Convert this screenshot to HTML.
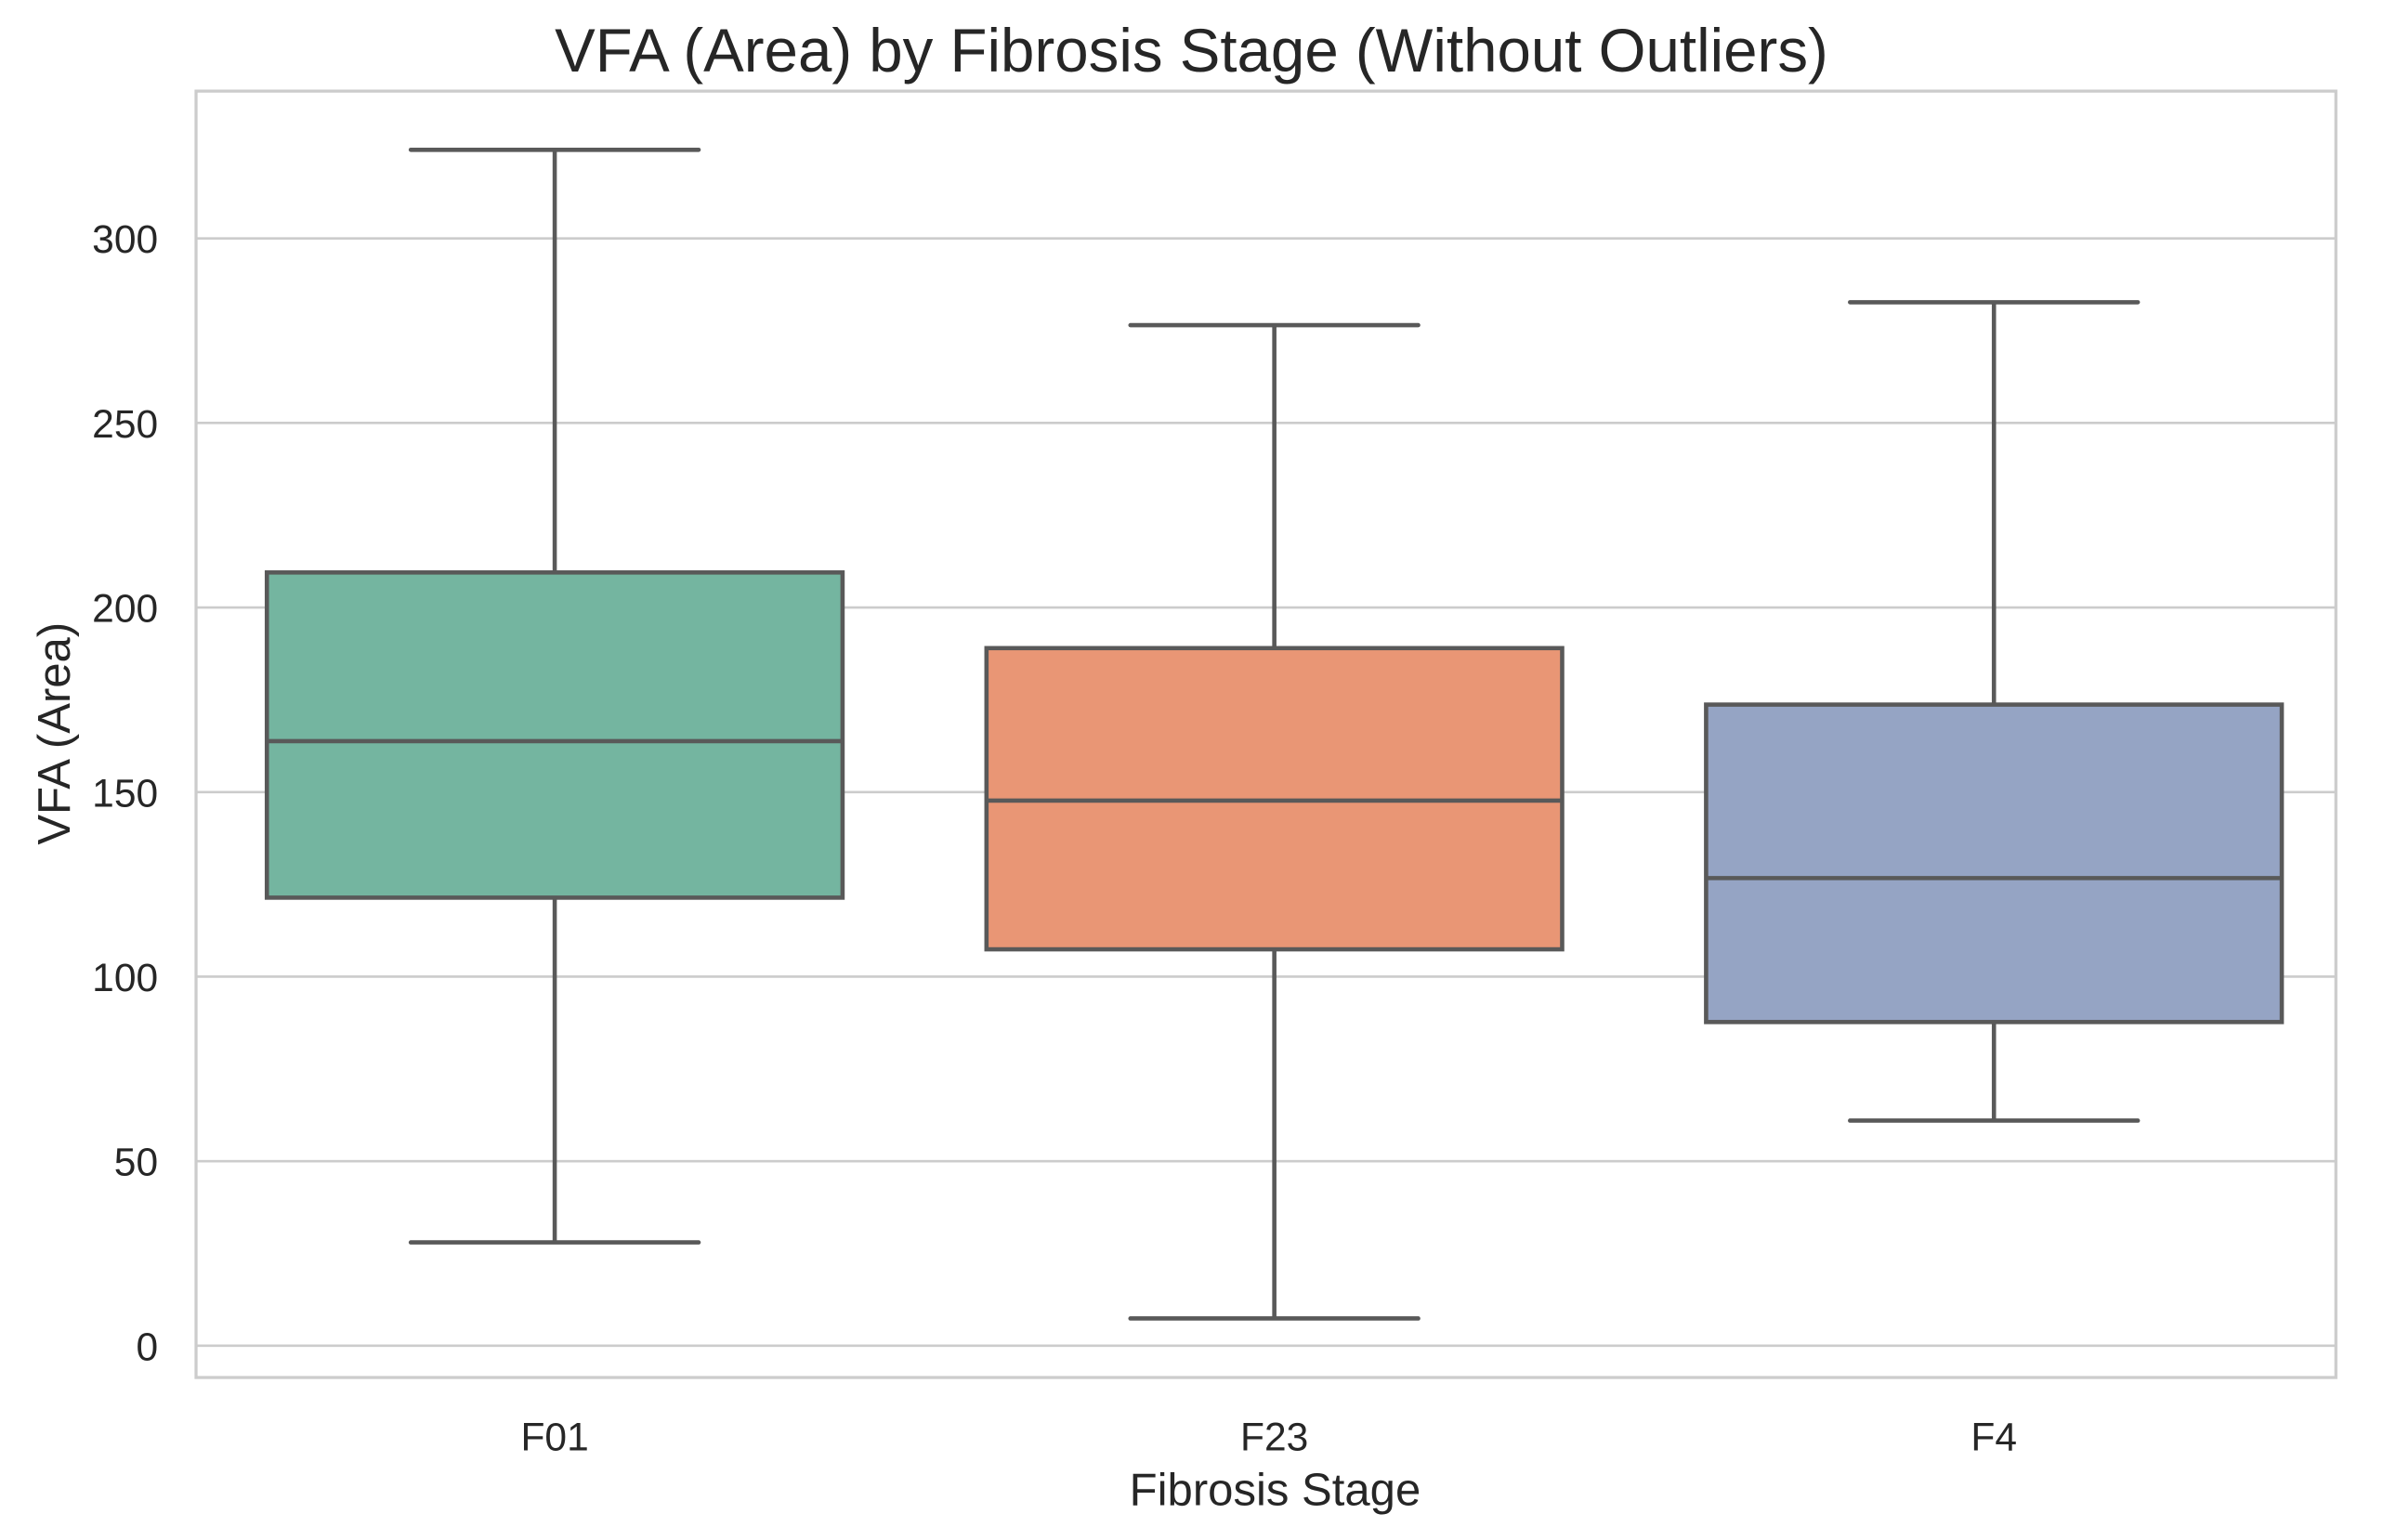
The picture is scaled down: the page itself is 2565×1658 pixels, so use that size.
<!DOCTYPE html>
<html><head><meta charset="utf-8"><style>
html,body{margin:0;padding:0;background:#fff;}
svg{display:block;font-family:"Liberation Sans",Arial,sans-serif;}
</style></head><body>
<svg id="chart" width="2565" height="1658" viewBox="0 0 1568 1014" preserveAspectRatio="none" xmlns="http://www.w3.org/2000/svg">
<rect x="0" y="0" width="1568" height="1014" fill="#fff"/>
<g id="grid"></g>
<g id="boxes"></g>
<rect x="129" y="60" width="1408" height="847" fill="none" stroke="#cccccc" stroke-width="2"/>
<g id="yticks"></g>
<g id="xticks"></g>
<text x="784" y="47" text-anchor="middle" font-size="40" fill="#262626">VFA (Area) by Fibrosis Stage (Without Outliers)</text>
<text x="839" y="991" text-anchor="middle" font-size="30" fill="#262626">Fibrosis Stage</text>
<text x="0" y="0" transform="translate(46,483) rotate(-90)" text-anchor="middle" font-size="30" fill="#262626">VFA (Area)</text>
</svg>
<script>
const categories = ["F01","F23","F4"];
const whiskerLow = [28, 7.4, 61];
const q1Values = [121.4, 107.4, 87.7];
const medianValues = [163.8, 147.7, 126.7];
const q3Values = [209.5, 189, 173.7];
const whiskerHigh = [324, 276.5, 282.7];
const colors = ["#74b5a0","#e99675","#95a4c4"];
const yTicks = [0,50,100,150,200,250,300];

const NS="http://www.w3.org/2000/svg";
const L=129,R=1537,T=60,B=907, yMin=-8.6, yMax=339.9;
const X0=128.25, STEP=473.5;
function y(v){return B-(v-yMin)/(yMax-yMin)*(B-T);}
function xc(i){return X0+STEP*(i+0.5);}
function mk(tag,attrs,parent){const e=document.createElementNS(NS,tag);for(const k in attrs)e.setAttribute(k,attrs[k]);parent.appendChild(e);return e;}
const grid=document.getElementById('grid'),yt=document.getElementById('yticks'),xt=document.getElementById('xticks'),bx=document.getElementById('boxes');
yTicks.forEach(v=>{
  const g=mk('line',{x1:L,x2:R,y1:y(v),y2:y(v),stroke:'#cccccc','stroke-width':1.6},grid);
  
  
  const t=mk('text',{x:L-25,y:y(v)+9.5,'text-anchor':'end','font-size':26,fill:'#262626'},yt);
  t.textContent=v;
  
  
});
categories.forEach((c,i)=>{
  const cx=xc(i), bw=STEP*0.8, cw=bw/2, st='#595959';
  const g=mk('g',{},bx);
  
  
  mk('line',{x1:cx,x2:cx,y1:y(q3Values[i]),y2:y(whiskerHigh[i]),stroke:st,'stroke-width':2.8},g);
  mk('line',{x1:cx,x2:cx,y1:y(q1Values[i]),y2:y(whiskerLow[i]),stroke:st,'stroke-width':2.8},g);
  mk('line',{x1:cx-cw/2,x2:cx+cw/2,y1:y(whiskerHigh[i]),y2:y(whiskerHigh[i]),stroke:st,'stroke-width':2.8,'stroke-linecap':'round'},g);
  mk('line',{x1:cx-cw/2,x2:cx+cw/2,y1:y(whiskerLow[i]),y2:y(whiskerLow[i]),stroke:st,'stroke-width':2.8,'stroke-linecap':'round'},g);
  mk('rect',{x:cx-bw/2,y:y(q3Values[i]),width:bw,height:y(q1Values[i])-y(q3Values[i]),fill:colors[i],stroke:st,'stroke-width':2.8},g);
  mk('line',{x1:cx-bw/2,x2:cx+bw/2,y1:y(medianValues[i]),y2:y(medianValues[i]),stroke:st,'stroke-width':2.8},g);
  const t=mk('text',{x:cx,y:955,'text-anchor':'middle','font-size':26,fill:'#262626'},xt);
  t.textContent=c;
  
  
});
</script>
</body></html>
